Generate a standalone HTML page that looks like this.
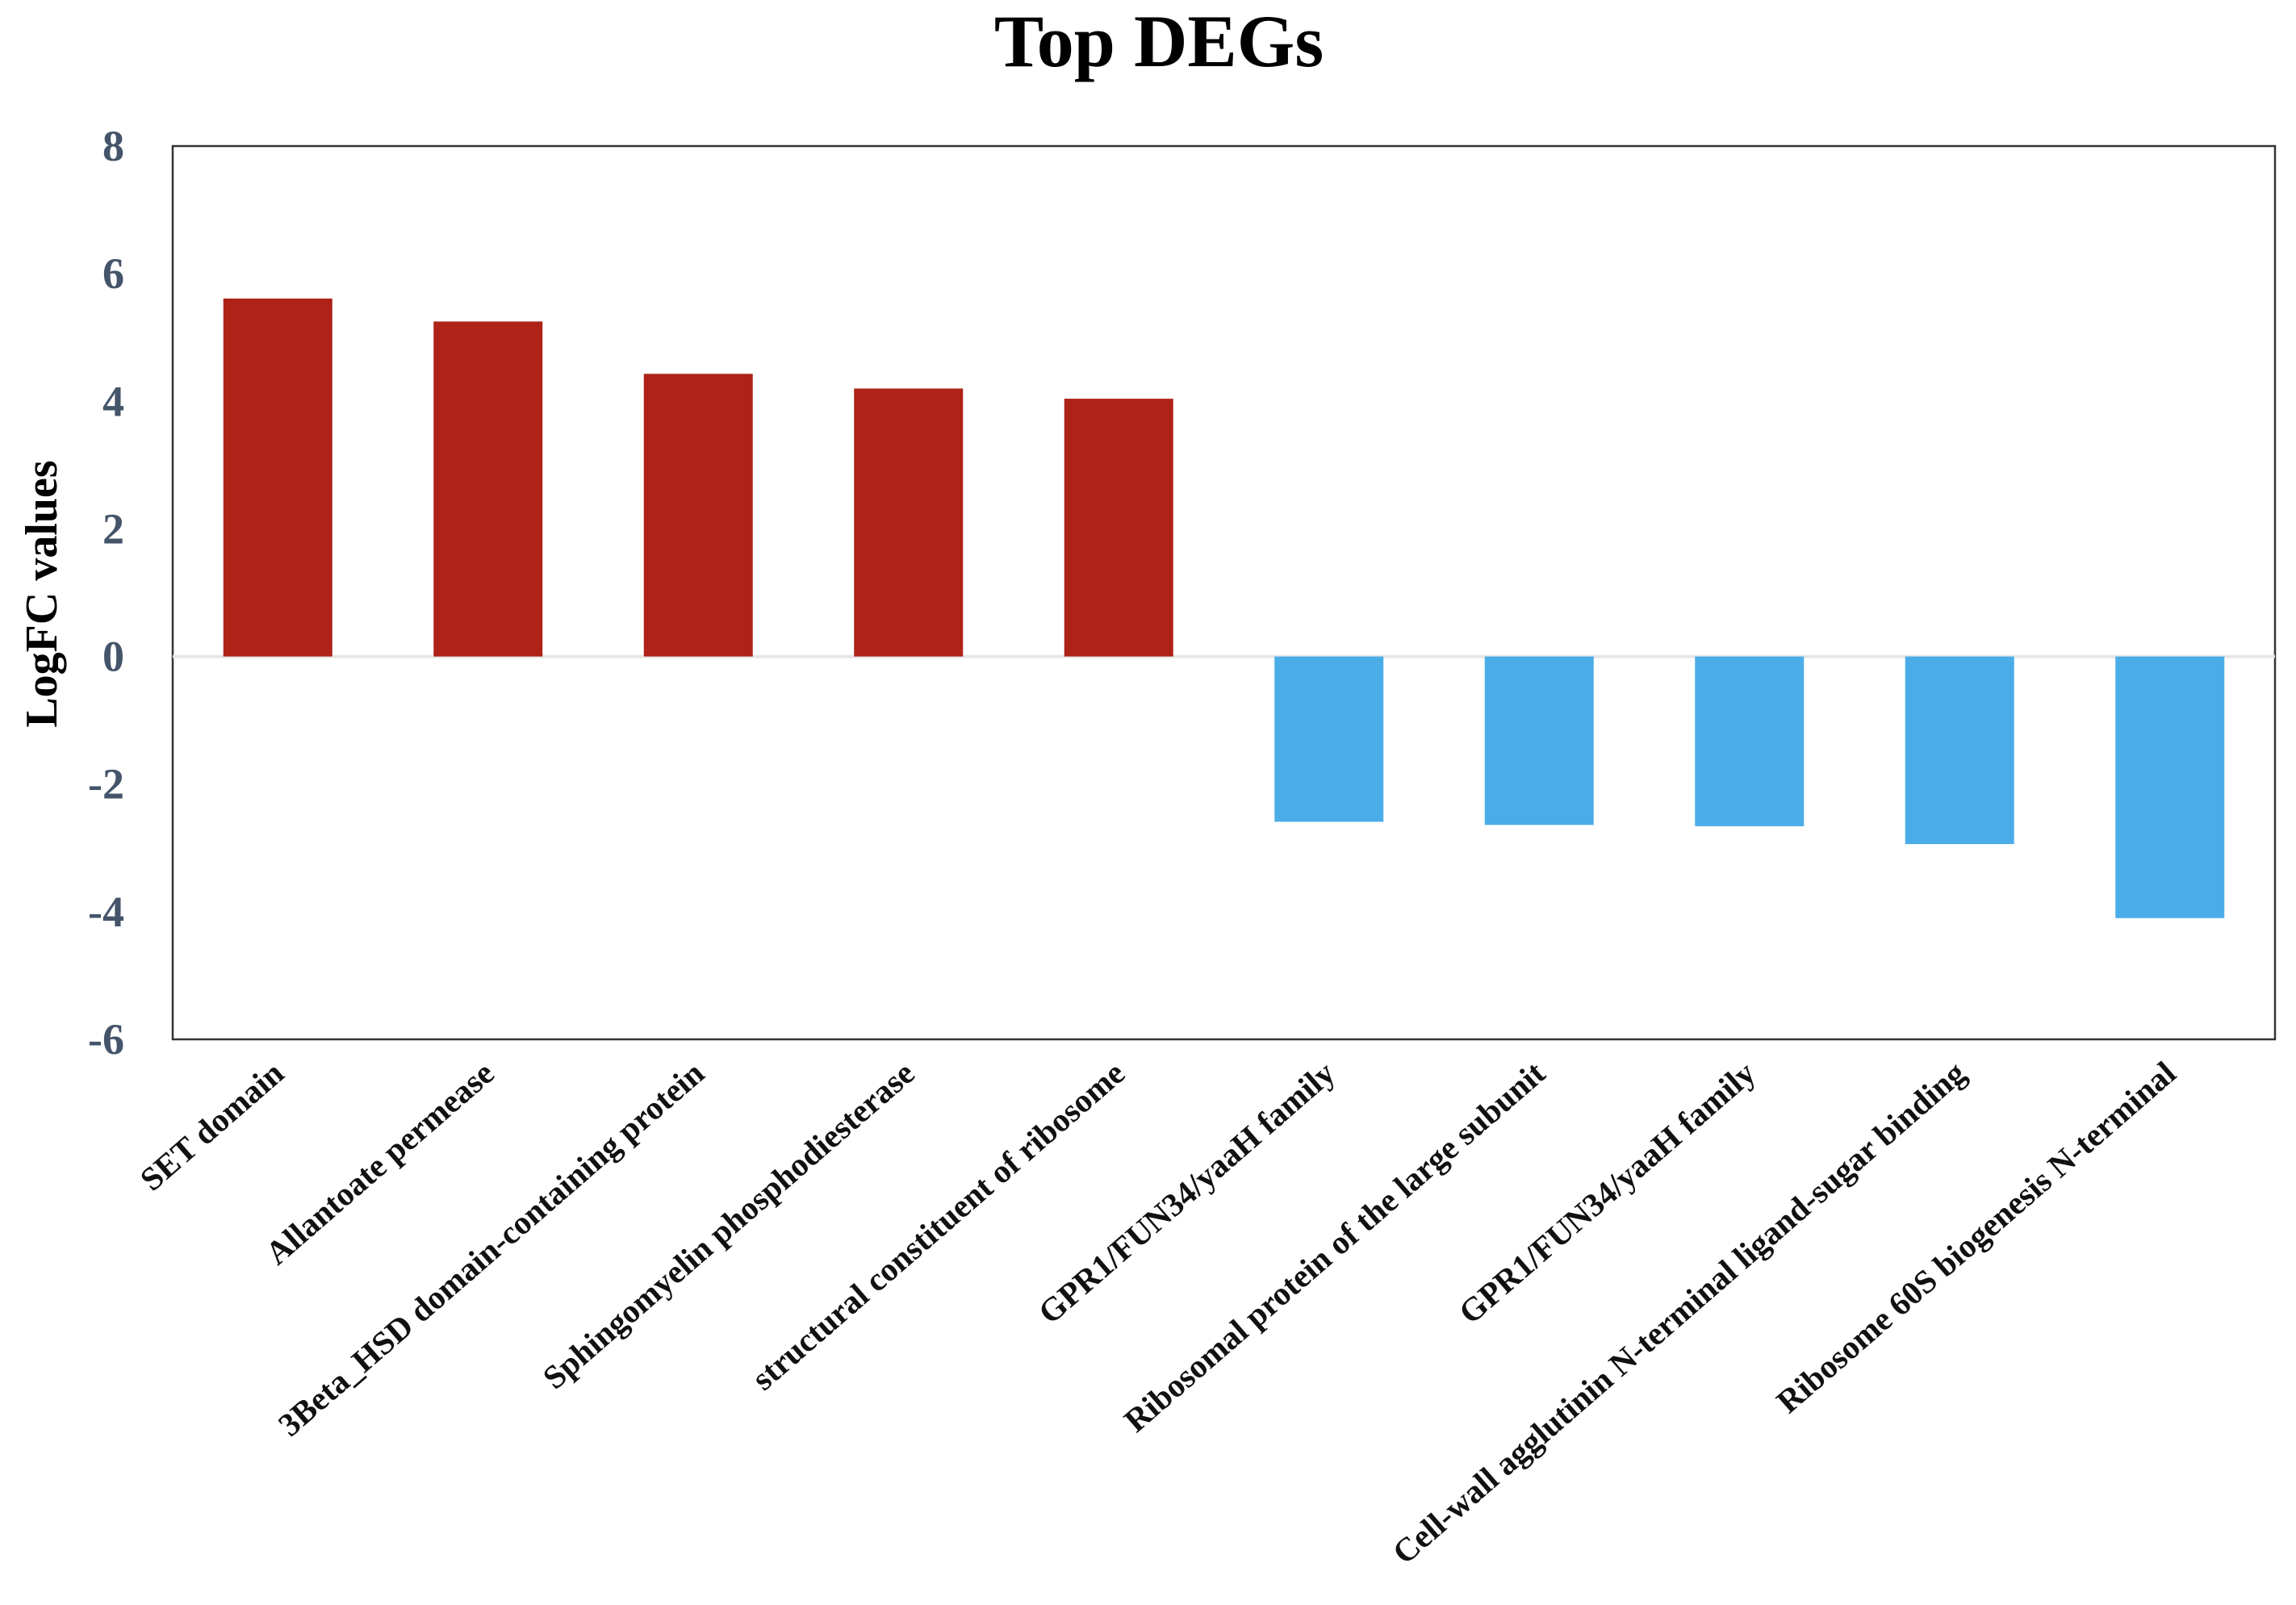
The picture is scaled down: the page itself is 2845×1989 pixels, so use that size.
<!DOCTYPE html>
<html><head><meta charset="utf-8"><style>
html,body{margin:0;padding:0;background:#fff;}
svg{display:block;}
</style></head><body>
<svg id="chart" width="2845" height="1989" viewBox="0 0 2845 1989" xmlns="http://www.w3.org/2000/svg">
<text x="1436" y="82" text-anchor="middle" font-family="Liberation Serif, serif" font-weight="bold" font-size="92" fill="#000">Top DEGs</text>
<text transform="translate(70,736) rotate(-90)" text-anchor="middle" font-family="Liberation Serif, serif" font-weight="bold" font-size="56" fill="#000">LogFC values</text>
<rect x="214" y="181" width="2605" height="1107" fill="none" stroke="#333" stroke-width="2.5"/>
<g id="grid"></g><g id="bars"></g><g id="yticks"></g><g id="xlabels"></g>
</svg>
<script>
const categories = ["SET domain","Allantoate permease","3Beta_HSD domain-containing protein","Sphingomyelin phosphodiesterase","structural constituent of ribosome","GPR1/FUN34/yaaH family","Ribosomal protein of the large subunit","GPR1/FUN34/yaaH family","Cell-wall agglutinin N-terminal ligand-sugar binding","Ribosome 60S biogenesis N-terminal"];
const logFC = [5.61, 5.25, 4.43, 4.2, 4.04, -2.59, -2.64, -2.66, -2.94, -4.1];
const yTicks = [8, 6, 4, 2, 0, -2, -4, -6];

const NS = "http://www.w3.org/2000/svg";
const L = 214, R = 2819, T = 181, B = 1288, yMax = 8, yMin = -6;
function y(v){ return T + (yMax - v) * (B - T) / (yMax - yMin); }
const step = (R - L) / categories.length;
function xc(i){ return L + step * (i + 0.5); }
const bw = 135;

const grid = document.getElementById('grid');
const zl = document.createElementNS(NS, 'line');


zl.setAttribute('x1', L); zl.setAttribute('x2', R);
zl.setAttribute('y1', y(0)); zl.setAttribute('y2', y(0));
zl.setAttribute('stroke', '#e6e6e6'); zl.setAttribute('stroke-width', '4');
grid.appendChild(zl);

const bars = document.getElementById('bars');
logFC.forEach((v, i) => {
  const r = document.createElementNS(NS, 'rect');
  
  
  const y0 = y(0), y1 = y(v);
  r.setAttribute('x', xc(i) - bw / 2);
  r.setAttribute('width', bw);
  r.setAttribute('y', Math.min(y0, y1));
  r.setAttribute('height', Math.abs(y1 - y0));
  r.setAttribute('fill', v >= 0 ? '#AE2218' : '#4BADE8');
  bars.appendChild(r);
});

const yt = document.getElementById('yticks');
yTicks.forEach(t => {
  const tx = document.createElementNS(NS, 'text');
  
  
  tx.setAttribute('x', 154);
  tx.setAttribute('y', y(t) + 18);
  tx.setAttribute('text-anchor', 'end');
  tx.setAttribute('font-family', 'Liberation Serif, serif');
  tx.setAttribute('font-weight', 'bold');
  tx.setAttribute('font-size', '54');
  tx.setAttribute('fill', '#44546A');
  tx.textContent = t;
  yt.appendChild(tx);
});

const xl = document.getElementById('xlabels');
categories.forEach((c, i) => {
  const tx = document.createElementNS(NS, 'text');
  
  
  const ax = xc(i) + 10, ay = 1334;
  tx.setAttribute('transform', 'translate(' + ax + ',' + ay + ') rotate(-41)');
  tx.setAttribute('text-anchor', 'end');
  tx.setAttribute('font-family', 'Liberation Serif, serif');
  tx.setAttribute('font-weight', 'bold');
  tx.setAttribute('font-size', '41');
  tx.setAttribute('fill', '#111');
  tx.textContent = c;
  xl.appendChild(tx);
});
</script>
</body></html>
